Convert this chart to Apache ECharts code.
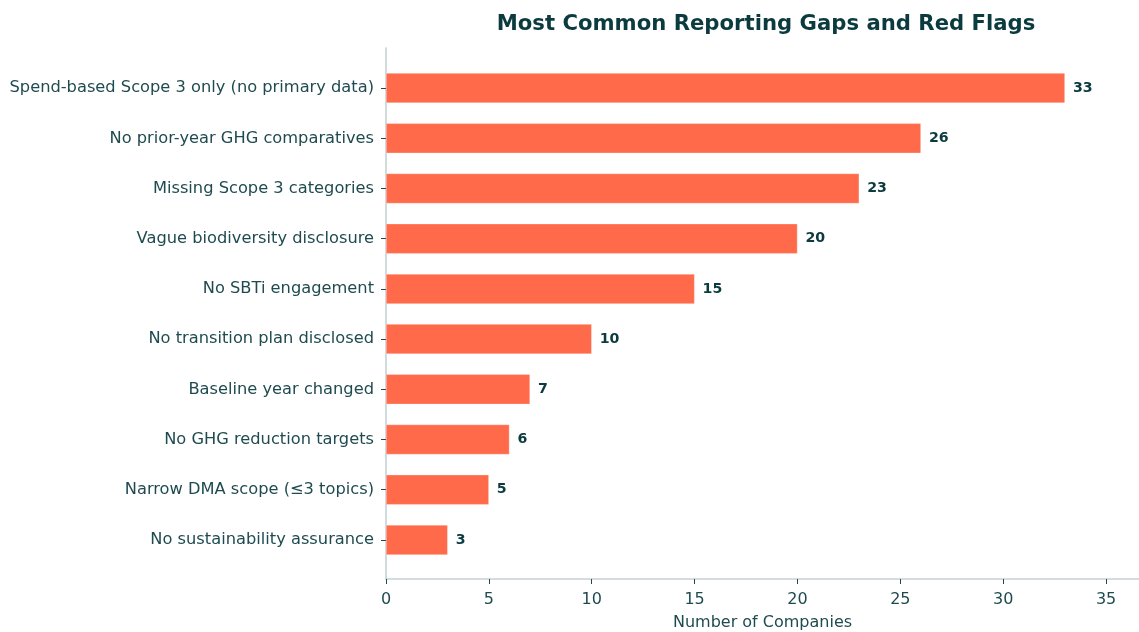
<!DOCTYPE html>
<html>
<head>
<meta charset="utf-8">
<script src="https://cdn.jsdelivr.net/npm/echarts@6/dist/echarts.min.js"></script>
<style>
  html, body { margin: 0; padding: 0; background: #ffffff; }
  #chart { width: 1139px; height: 632px; }
</style>
</head>
<body>
<div id="chart"></div>
<script>
// Reporting gaps, listed from most to least common
const categories = [
  'Spend-based Scope 3 only (no primary data)',
  'No prior-year GHG comparatives',
  'Missing Scope 3 categories',
  'Vague biodiversity disclosure',
  'No SBTi engagement',
  'No transition plan disclosed',
  'Baseline year changed',
  'No GHG reduction targets',
  'Narrow DMA scope (\u22643 topics)',
  'No sustainability assurance'
];
const companyCounts = [33, 26, 23, 20, 15, 10, 7, 6, 5, 3];
const xTicks = [0, 5, 10, 15, 20, 25, 30, 35];

const FONT = 'DejaVu Sans';
const TEXT = '#1f4b50';
const DARK = '#0b3b3e';
const AXIS = '#c6d1d5';
const BAR = '#ff6b4a';
const X_MAX = 36.6;

const chart = echarts.init(document.getElementById('chart'), null, { renderer: 'canvas' });

chart.setOption({
  backgroundColor: '#ffffff',
  animation: false,
  textStyle: { fontFamily: FONT },
  title: {
    text: 'Most Common Reporting Gaps and Red Flags',
    left: 761,
    textAlign: 'center',
    top: 9,
    textStyle: { fontFamily: FONT, fontWeight: 'bold', fontSize: 21.2, color: DARK }
  },
  grid: [
    // bars
    { left: 386, right: 0, top: 63, bottom: 67, outerBoundsMode: 'none', containLabel: false },
    // axis frame
    { left: 386, right: 0, top: 48, bottom: 53, outerBoundsMode: 'none', containLabel: false }
  ],
  xAxis: [
    {
      gridIndex: 0, type: 'value', min: 0, max: X_MAX, interval: 5,
      show: false
    },
    {
      gridIndex: 1, type: 'value', min: 0, max: X_MAX, interval: 5,
      name: 'Number of Companies',
      nameLocation: 'middle',
      nameGap: 36,
      nameTextStyle: { fontFamily: FONT, fontSize: 16, color: TEXT },
      axisLine: { show: true, lineStyle: { color: AXIS, width: 1.6 } },
      axisTick: { show: true, length: 5, lineStyle: { color: TEXT, width: 1 } },
      axisLabel: {
        margin: 13, fontFamily: FONT, fontSize: 16, color: TEXT,
        customValues: xTicks
      },
      splitLine: { show: false }
    }
  ],
  yAxis: [
    {
      gridIndex: 0, type: 'category', data: categories, inverse: true,
      axisLine: { show: false },
      axisTick: { show: true, alignWithLabel: true, length: 5, lineStyle: { color: TEXT, width: 1 } },
      axisLabel: { margin: 12, fontFamily: FONT, fontSize: 16.25, color: TEXT },
      splitLine: { show: false }
    },
    {
      gridIndex: 1, type: 'value', min: 0, max: 1,
      axisLine: { show: true, lineStyle: { color: AXIS, width: 1.6 } },
      axisTick: { show: false },
      axisLabel: { show: false },
      splitLine: { show: false }
    }
  ],
  series: [
    {
      type: 'bar',
      xAxisIndex: 0,
      yAxisIndex: 0,
      data: companyCounts,
      barWidth: 30,
      itemStyle: { color: BAR, borderColor: 'rgba(255,255,255,0.6)', borderWidth: 0.5 },
      label: {
        show: true,
        position: 'right',
        distance: 8,
        fontFamily: FONT,
        fontWeight: 'bold',
        fontSize: 14.2,
        color: DARK
      }
    }
  ]
});
</script>
</body>
</html>
